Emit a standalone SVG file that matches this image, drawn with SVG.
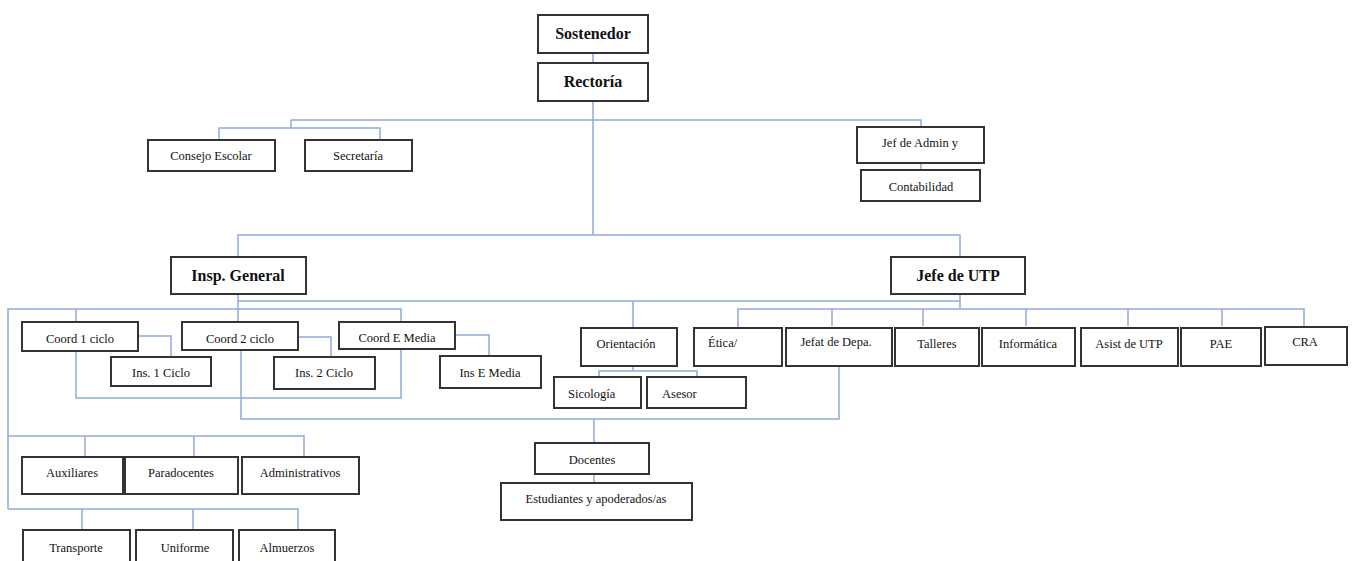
<svg xmlns="http://www.w3.org/2000/svg" width="1353" height="561" viewBox="0 0 1353 561">
<style>
.c{fill:none;stroke:#8eaadb;stroke-width:1.5}
.b{fill:#fff;stroke:#333;stroke-width:2}
text{font-family:"Liberation Serif","Times New Roman",serif;font-size:12.5px;fill:#111;text-anchor:middle}
.h{font-size:16px;font-weight:bold}
.l{text-anchor:start}
</style>
<rect width="1353" height="561" fill="#fff"/>
<g id="connectors">
<path class="c" d="M593 53V63M593 101V235M291 120H921V127M291 120V128M219 140V128H380V140M921 163V170"/>
<path class="c" d="M238 257V235H960V257M238 294V322M238 301H960M960 294V309"/>
<path class="c" d="M738 328V309H1304V326M832 309V326M923 309V326M1026 309V326M1128 309V326M1222 309V326"/>
<path class="c" d="M633 301V328M633 366V371M599 377V371H697V377"/>
<path class="c" d="M8 509V309H401V398H76V351M76 309V322"/>
<path class="c" d="M138 336H171V357M298 337H331V357M456 335H489V356"/>
<path class="c" d="M241 350V419H839V366M594 419V443M594 474V483"/>
<path class="c" d="M8 436H304V457M85 436V457M194 436V457"/>
<path class="c" d="M8 509H298V530M82 509V530M193 509V530"/>
</g>
<g id="sostenedor"><rect class="b" x="538" y="15" width="110" height="38"/><text class="h" x="593" y="39">Sostenedor</text></g>
<g id="rectoria"><rect class="b" x="538" y="63" width="110" height="38"/><text class="h" x="593" y="87">Rectoría</text></g>
<g id="consejo"><rect class="b" x="148" y="140" width="127" height="31"/><text x="211" y="160">Consejo Escolar</text></g>
<g id="secretaria"><rect class="b" x="305" y="140" width="107" height="31"/><text x="358" y="160">Secretaría</text></g>
<g id="jefadmin"><rect class="b" x="857" y="127" width="127" height="36"/><text x="920" y="147">Jef de Admin y</text></g>
<g id="contabilidad"><rect class="b" x="861" y="170" width="119" height="31"/><text x="921" y="191">Contabilidad</text></g>
<g id="inspgeneral"><rect class="b" x="171" y="257" width="135" height="37"/><text class="h" x="238" y="281">Insp. General</text></g>
<g id="jefeutp"><rect class="b" x="891" y="257" width="134" height="37"/><text class="h" x="958" y="281">Jefe de UTP</text></g>
<g id="coord1"><rect class="b" x="22" y="322" width="116" height="29"/><text x="80" y="343">Coord 1 ciclo</text></g>
<g id="ins1"><rect class="b" x="111" y="357" width="100" height="29"/><text x="161" y="377">Ins. 1 Ciclo</text></g>
<g id="coord2"><rect class="b" x="182" y="322" width="116" height="28"/><text x="240" y="343">Coord 2 ciclo</text></g>
<g id="ins2"><rect class="b" x="274" y="357" width="101" height="32"/><text x="324" y="377">Ins. 2 Ciclo</text></g>
<g id="coordem"><rect class="b" x="339" y="322" width="116" height="27"/><text x="397" y="342">Coord E Media</text></g>
<g id="insem"><rect class="b" x="440" y="356" width="101" height="32"/><text x="490" y="377">Ins E Media</text></g>
<g id="orientacion"><rect class="b" x="581" y="328" width="96" height="38"/><text x="626" y="348">Orientación</text></g>
<g id="sicologia"><rect class="b" x="554" y="377" width="87" height="31"/><text class="l" x="568" y="398">Sicología</text></g>
<g id="asesor"><rect class="b" x="647" y="377" width="99" height="31"/><text class="l" x="662" y="398">Asesor</text></g>
<g id="etica"><rect class="b" x="694" y="328" width="88" height="38"/><text class="l" x="708" y="347">Ética/</text></g>
<g id="jefat"><rect class="b" x="786" y="328" width="106" height="38"/><text x="836" y="346">Jefat de Depa.</text></g>
<g id="talleres"><rect class="b" x="895" y="328" width="84" height="38"/><text x="937" y="348">Talleres</text></g>
<g id="informatica"><rect class="b" x="982" y="328" width="93" height="38"/><text x="1028" y="348">Informática</text></g>
<g id="asistutp"><rect class="b" x="1081" y="328" width="97" height="38"/><text x="1129" y="348">Asist de UTP</text></g>
<g id="pae"><rect class="b" x="1181" y="328" width="80" height="38"/><text x="1221" y="348">PAE</text></g>
<g id="cra"><rect class="b" x="1265" y="327" width="82" height="38"/><text x="1305" y="346">CRA</text></g>
<g id="docentes"><rect class="b" x="535" y="443" width="114" height="31"/><text x="592" y="464">Docentes</text></g>
<g id="estudiantes"><rect class="b" x="501" y="483" width="191" height="37"/><text x="596" y="503">Estudiantes y apoderados/as</text></g>
<g id="auxiliares"><rect class="b" x="22" y="457" width="101" height="37"/><text x="72" y="477">Auxiliares</text></g>
<g id="paradocentes"><rect class="b" x="125" y="457" width="113" height="37"/><text x="181" y="477">Paradocentes</text></g>
<g id="administrativos"><rect class="b" x="242" y="457" width="117" height="37"/><text x="300" y="477">Administrativos</text></g>
<g id="transporte"><rect class="b" x="23" y="530" width="107" height="38"/><text x="76" y="552">Transporte</text></g>
<g id="uniforme"><rect class="b" x="136" y="530" width="97" height="38"/><text x="185" y="552">Uniforme</text></g>
<g id="almuerzos"><rect class="b" x="239" y="530" width="96" height="38"/><text x="287" y="552">Almuerzos</text></g>
</svg>
